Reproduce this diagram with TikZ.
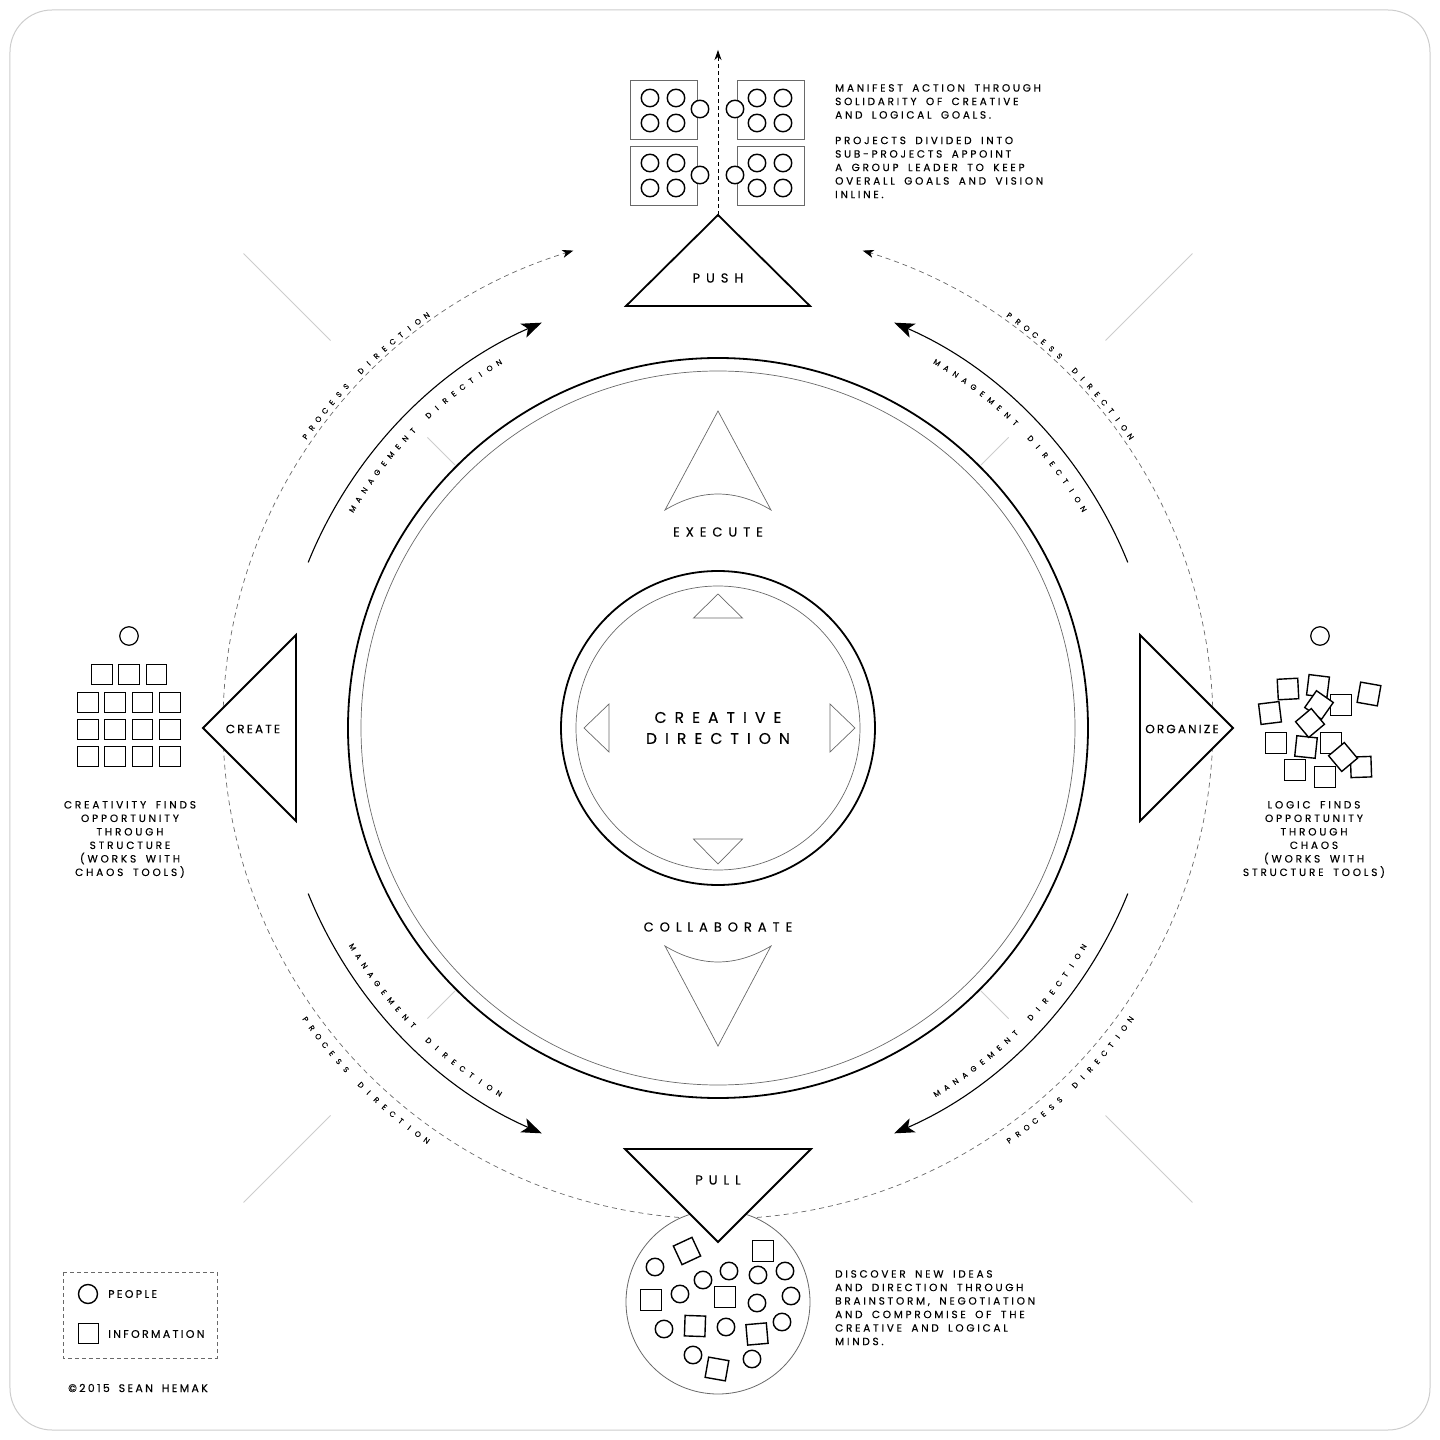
\documentclass[tikz,border=0pt]{standalone}
\usepackage{fontspec}
\setmainfont{Poppins}[WordSpace=1.7, FakeBold=0.3]
\usetikzlibrary{arrows.meta}
\definecolor{tickgray}{RGB}{205,205,205}
\definecolor{thingray}{RGB}{105,105,105}
\newcommand{\ArcText}[6]{% name, radius, first angle, step, turn, letters
  \foreach \ch [count=\k from 0] in {#6} {
    \node[ArcLetter, rotate={#3+\k*(#4)+(#5)}] (#1-\k) at ({#3+\k*(#4)}:#2) {\ch};
  }}

\begin{document}
\begin{tikzpicture}[x=1pt, y=1pt]
    \useasboundingbox (-718,-712) rectangle (722,728);
    \tikzset{FrameLine/.style={draw=tickgray, line width=1pt, rounded corners=42pt}}
    \tikzset{Ring/.style={draw=black, line width=1.8pt}}
    \tikzset{ThinRing/.style={draw=thingray, line width=0.7pt}}
    \tikzset{Tick/.style={draw=tickgray, line width=1pt}}
    \tikzset{Management/.style={-{Stealth[length=20pt,width=15pt,inset=5pt]}, line width=1.1pt}}
    \tikzset{Process/.style={-{Stealth[length=11pt,width=8pt,inset=3pt,color=black]}, draw=thingray, line width=0.7pt, dash pattern=on 5pt off 4pt}}
    \tikzset{Lead/.style={-{Stealth[length=10pt,width=7pt,inset=3pt]}, line width=0.8pt, dash pattern=on 4pt off 3pt}}
    \tikzset{Wedge/.style={draw=black, fill=white, line width=1.8pt}}
    \tikzset{Glyph/.style={draw=thingray, line width=0.7pt}}
    \tikzset{Person/.style={circle, draw=black, fill=white, line width=1.4pt, minimum size=17.5pt, inner sep=0pt}}
    \tikzset{Info/.style={rectangle, draw=black, fill=white, line width=1.4pt, minimum size=20.5pt, inner sep=0pt}}
    \tikzset{TeamBox/.style={rectangle, draw=thingray, line width=0.8pt, minimum width=67pt, minimum height=59pt, inner sep=0pt}}
    \tikzset{Caption/.style={font=\fontsize{10.5}{13.5}\selectfont\addfontfeature{LetterSpace=27}, align=center, inner sep=0pt}}
    \tikzset{Note/.style={font=\fontsize{10.5}{13.5}\selectfont\addfontfeature{LetterSpace=26}, align=left, anchor=north west, inner sep=0pt}}
    \tikzset{Legend/.style={font=\fontsize{11}{13}\selectfont\addfontfeature{LetterSpace=21}, anchor=west, inner sep=0pt}}
    \tikzset{StageLabel/.style={font=\fontsize{13}{13}\selectfont\addfontfeature{LetterSpace=46}, inner sep=0pt}}
    \tikzset{SideLabel/.style={font=\fontsize{12}{12}\selectfont\addfontfeature{LetterSpace=18}, inner sep=0pt}}
    \tikzset{ArcLetter/.style={font=\fontsize{7.6}{7.6}\selectfont, inner sep=0pt}}

    \draw[FrameLine] (-708,718) rectangle (712,-702); % frame

    \foreach \a in {45,135,225,315} {
        \draw[Tick] (\a:372) -- (\a:411);
        \draw[Tick] (\a:548) -- (\a:671);
    }

    \draw[Ring] (0,0) circle[radius=370]; % outer ring
    \draw[ThinRing] (0,0) circle[radius=357];
    \draw[Ring] (0,0) circle[radius=157]; % core ring
    \draw[ThinRing] (0,0) circle[radius=142];

    \draw[Glyph] (0,317) -- (53,218) .. controls (17.7,239.3) and (-17.7,239.3) .. (-53,218) -- cycle; % execute
    \draw[Glyph] (0,-318) -- (53,-218) .. controls (17.7,-239.3) and (-17.7,-239.3) .. (-53,-218) -- cycle; % collaborate
    \draw[Glyph] (0,134) -- (24.5,110) -- (-24.5,110) -- cycle;
    \draw[Glyph] (0,-136) -- (24.5,-111) -- (-24.5,-111) -- cycle;
    \draw[Glyph] (-134,0) -- (-109,24) -- (-109,-24) -- cycle;
    \draw[Glyph] (137,0) -- (112,24) -- (112,-24) -- cycle;

    \node[font=\fontsize{15.5}{21}\selectfont\addfontfeature{LetterSpace=52}, align=center, inner sep=0pt] (core) at (0,0) {CREATIVE\\DIRECTION};
    \node[StageLabel] (execute) at (0,196) {EXECUTE};
    \node[StageLabel] (collaborate) at (0,-199) {COLLABORATE};

    \draw[Management] (158:442) arc[start angle=158, end angle=113.5, radius=442];
    \draw[Management] (22:442) arc[start angle=22, end angle=66.5, radius=442];
    \draw[Management] (202:442) arc[start angle=202, end angle=246.5, radius=442];
    \draw[Management] (-22:442) arc[start angle=-22, end angle=-66.5, radius=442];

    \draw[Process] ([shift={(0,4)}]265.5:495) arc[start angle=265.5, end angle=107, radius=495];
    \draw[Process] ([shift={(0,4)}]274.5:495) arc[start angle=274.5, end angle=433, radius=495];

    \ArcText{mgmt-tl}{426}{149.06}{-1.48}{-90}{M,A,N,A,G,E,M,E,N,T,{},D,I,R,E,C,T,I,O,N}
    \ArcText{mgmt-tr}{426}{59.06}{-1.48}{-90}{M,A,N,A,G,E,M,E,N,T,{},D,I,R,E,C,T,I,O,N}
    \ArcText{mgmt-bl}{426}{210.94}{1.48}{90}{M,A,N,A,G,E,M,E,N,T,{},D,I,R,E,C,T,I,O,N}
    \ArcText{mgmt-br}{426}{300.94}{1.48}{90}{M,A,N,A,G,E,M,E,N,T,{},D,I,R,E,C,T,I,O,N}
    \ArcText{proc-tl}{505}{144.76}{-1.22}{-90}{P,R,O,C,E,S,S,{},D,I,R,E,C,T,I,O,N}
    \ArcText{proc-tr}{505}{54.76}{-1.22}{-90}{P,R,O,C,E,S,S,{},D,I,R,E,C,T,I,O,N}
    \ArcText{proc-bl}{505}{215.24}{1.22}{90}{P,R,O,C,E,S,S,{},D,I,R,E,C,T,I,O,N}
    \ArcText{proc-br}{505}{305.24}{1.22}{90}{P,R,O,C,E,S,S,{},D,I,R,E,C,T,I,O,N}

    % pool of ideas under PULL
    \node[circle, draw=thingray, fill=white, line width=0.8pt, minimum size=184pt, inner sep=0pt] (pool) at (0,-574) {};
    \node[Person] (idea-1) at (-63,-539) {};
    \node[Person] (idea-2) at (-38,-566) {};
    \node[Person] (idea-3) at (-15,-552) {};
    \node[Person] (idea-4) at (11,-543) {};
    \node[Person] (idea-5) at (40,-547) {};
    \node[Person] (idea-6) at (67,-543) {};
    \node[Person] (idea-7) at (73,-568) {};
    \node[Person] (idea-8) at (39,-575) {};
    \node[Person] (idea-9) at (-54,-601) {};
    \node[Person] (idea-10) at (8,-599) {};
    \node[Person] (idea-11) at (64,-594) {};
    \node[Person] (idea-12) at (-25,-627) {};
    \node[Person] (idea-13) at (34,-631) {};
    \node[Info, rotate=25] (fact-1) at (-31,-523) {};
    \node[Info] (fact-2) at (45,-523) {};
    \node[Info] (fact-3) at (-67,-572) {};
    \node[Info] (fact-4) at (7,-569) {};
    \node[Info, rotate=-2] (fact-5) at (-23,-598) {};
    \node[Info, rotate=5] (fact-6) at (39,-606) {};
    \node[Info, rotate=-10] (fact-7) at (-1,-641) {};

    \draw[Wedge] (0,513) -- (92,422) -- (-92,422) -- cycle; % push
    \draw[Wedge] (0,-514) -- (93,-421) -- (-93,-421) -- cycle; % pull
    \draw[Wedge] (-515,0) -- (-422,93) -- (-422,-93) -- cycle; % create
    \draw[Wedge] (515,0) -- (422,93) -- (422,-93) -- cycle; % organize
    \node[StageLabel] (push) at (0,450) {PUSH};
    \node[StageLabel] (pull) at (0,-452) {PULL};
    \node[SideLabel] (create) at (-465,-1) {CREATE};
    \node[SideLabel] (organize) at (464,-1) {ORGANIZE};

    \coordinate (push-tip) at (0,513);
    \coordinate (goal) at (0,678);
    \draw[Lead] (push-tip) -- (goal);

    % teams above PUSH
    \node[TeamBox] (team-1) at (-54.5,618.5) {};
    \node[TeamBox] (team-2) at (53,618.5) {};
    \node[TeamBox] (team-3) at (-54.5,552) {};
    \node[TeamBox] (team-4) at (53,552) {};
    \foreach \n/\cx/\cy in {1/-55/617.5, 2/52/617.5, 3/-55/552.5, 4/52/552.5} {
        \node[Person] (team-\n-a) at (\cx-13,\cy+12.5) {};
        \node[Person] (team-\n-b) at (\cx+13,\cy+12.5) {};
        \node[Person] (team-\n-c) at (\cx-13,\cy-12.5) {};
        \node[Person] (team-\n-d) at (\cx+13,\cy-12.5) {};
    }
    \node[Person] (lead-1) at (-18,619) {};
    \node[Person] (lead-2) at (17,619) {};
    \node[Person] (lead-3) at (-18,553) {};
    \node[Person] (lead-4) at (17,553) {};

    \node[Note] (push-note) at (117,644) {MANIFEST ACTION THROUGH\\SOLIDARITY OF CREATIVE\\AND LOGICAL GOALS.\\[12pt]PROJECTS DIVIDED INTO\\SUB-PROJECTS APPOINT\\A GROUP LEADER TO KEEP\\OVERALL GOALS AND VISION\\INLINE.};
    \node[Note] (pull-note) at (117,-542) {DISCOVER NEW IDEAS\\AND DIRECTION THROUGH\\BRAINSTORM, NEGOTIATION\\AND COMPROMISE OF THE\\CREATIVE AND LOGICAL\\MINDS.};

    % structure (left)
    \node[Person, line width=1.2pt, minimum size=18.5pt] (creator) at (-589,92) {};
    \foreach \x [count=\i] in {-616,-589,-561.5} {
        \node[Info] (grid-0-\i) at (\x,53.5) {};
    }
    \foreach \y [count=\j] in {25.5,-1.5,-28.5} {
        \foreach \x [count=\i] in {-630,-603,-575.5,-548} {
            \node[Info] (grid-\j-\i) at (\x,\y) {};
        }
    }
    \node[Caption] (create-note) at (-588,-111.5) {CREATIVITY FINDS\\OPPORTUNITY\\THROUGH\\STRUCTURE\\(WORKS WITH\\CHAOS TOOLS)};

    % chaos (right)
    \node[Person, line width=1.2pt, minimum size=18.5pt] (organizer) at (602,92) {};
    \node[Info, rotate=3] (scatter-1) at (570,39) {};
    \node[Info, rotate=-7] (scatter-2) at (600,42) {};
    \node[Info, rotate=-10] (scatter-3) at (651,34) {};
    \node[Info, rotate=7] (scatter-4) at (552,15) {};
    \node[Info] (scatter-6) at (623,23) {};
    \node[Info, rotate=-35] (scatter-5) at (601,23) {};
    \node[Info] (scatter-8) at (558,-15) {};
    \node[Info, rotate=-6] (scatter-9) at (588,-19) {};
    \node[Info] (scatter-10) at (613,-15) {};
    \node[Info, rotate=40] (scatter-7) at (592,5) {};
    \node[Info, rotate=2] (scatter-12) at (643,-39) {};
    \node[Info, rotate=40] (scatter-11) at (625,-29) {};
    \node[Info] (scatter-13) at (577,-42) {};
    \node[Info] (scatter-14) at (607,-49) {};
    \node[Caption] (organize-note) at (596,-111.5) {LOGIC FINDS\\OPPORTUNITY\\THROUGH\\CHAOS\\(WORKS WITH\\STRUCTURE TOOLS)};

    % legend
    \draw[draw=thingray, line width=0.7pt, dash pattern=on 4pt off 3pt] (-655,-544) rectangle (-501,-630);
    \node[Person, minimum size=19pt] (key-person) at (-630,-566) {};
    \node[Legend] (key-person-text) at (-610,-566) {PEOPLE};
    \node[Info] (key-info) at (-629.5,-605.5) {};
    \node[Legend] (key-info-text) at (-610,-606) {INFORMATION};
    \node[Legend] (credit) at (-650,-660) {©2015 SEAN HEMAK};
\end{tikzpicture}
\end{document}
